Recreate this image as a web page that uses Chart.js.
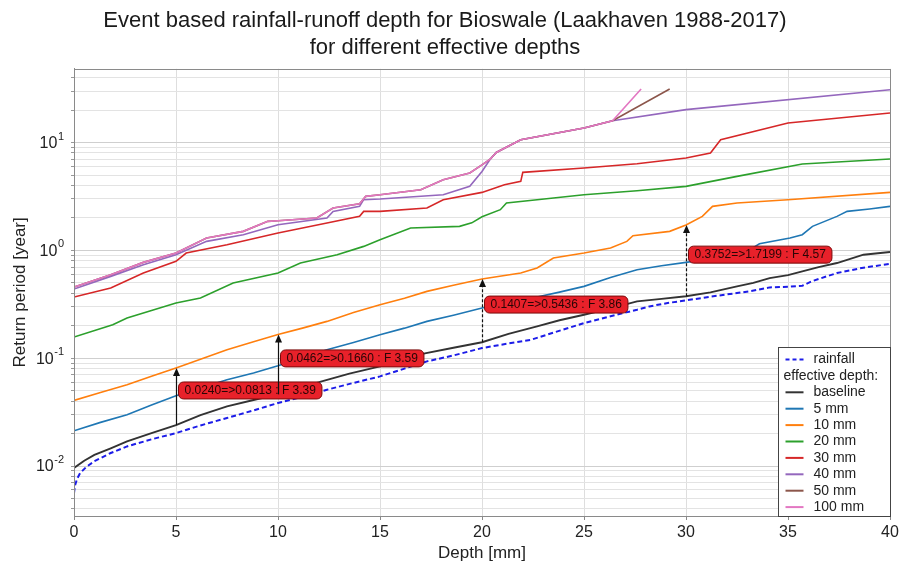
<!DOCTYPE html>
<html>
<head>
<meta charset="utf-8">
<script src="https://cdn.jsdelivr.net/npm/chart.js@4/dist/chart.umd.min.js"></script>
<style>
  html, body { margin: 0; padding: 0; background: #fff; }
  #wrap { width: 899px; height: 564px; }
</style>
</head>
<body>
<div id="wrap"><canvas id="c" width="899" height="564"></canvas></div>
<script>
// Return period [year] against event depth [mm], one [depth, period] list per curve
const rainfall = [[0,0.0056],[0.05,0.0066],[0.15,0.0076],[0.3,0.0086],[0.6,0.0098],[1,0.0111],[1.8,0.0132],[2.6,0.0152],[3.8,0.0177],[5,0.0202],[6.2,0.0238],[7.5,0.0279],[8.8,0.0328],[10,0.0384],[11.2,0.0440],[12.4,0.0510],[13.7,0.0590],[15,0.0678],[16.2,0.0800],[17.3,0.0934],[18.6,0.106],[20,0.1242],[21.2,0.1360],[22.4,0.1483],[23.6,0.1750],[25,0.2118],[26.3,0.245],[27.6,0.2816],[28.2,0.3022],[29.1,0.3250],[30,0.3436],[31.2,0.372],[32.5,0.4019],[33.2,0.420],[34.1,0.4537],[35,0.4600],[35.7,0.4702],[36.2,0.52],[37.4,0.6163],[38.5,0.68],[40,0.752]];
const baseline = [[0,0.0096],[0.5,0.0112],[1,0.0127],[1.8,0.0146],[2.6,0.0169],[3.8,0.0202],[5,0.0240],[6.2,0.0296],[7.5,0.0357],[8.8,0.0410],[10,0.0462],[11,0.0530],[12.1,0.0607],[13.5,0.0720],[15,0.0840],[16.1,0.0960],[17.2,0.111],[18.6,0.125],[20,0.1407],[21.3,0.168],[22.7,0.1972],[23.8,0.225],[25,0.2531],[26.3,0.290],[27.6,0.3365],[28.8,0.355],[30,0.3752],[31.2,0.408],[32.5,0.4636],[33.3,0.500],[34.1,0.5536],[35,0.590],[35.7,0.6385],[36.5,0.700],[37.4,0.763],[38.7,0.9116],[40,0.965]];
const eff5 = [[0,0.0212],[1.3,0.0254],[2.6,0.0299],[3.8,0.0368],[5,0.0449],[6.2,0.0530],[7.5,0.0631],[8.8,0.0730],[10,0.0851],[11.2,0.101],[12.4,0.1199],[13.7,0.140],[15,0.1651],[16.2,0.190],[17.3,0.2195],[18.6,0.250],[20,0.2917],[21.3,0.330],[22.7,0.369],[23.8,0.410],[25,0.4636],[26.3,0.560],[27.6,0.6616],[28.8,0.720],[30,0.7739],[31.5,0.85],[33,0.98],[33.6,1.15],[35.1,1.302],[35.7,1.397],[36.2,1.67],[37.4,2.067],[37.9,2.30],[39,2.42],[40,2.559]];
const eff10 = [[0,0.0406],[1.3,0.0480],[2.6,0.0567],[3.8,0.0680],[5,0.0813],[6.2,0.0980],[7.5,0.1199],[8.8,0.1420],[10,0.166],[11.2,0.190],[12.4,0.2195],[13.7,0.265],[15,0.3133],[16.2,0.360],[17.3,0.4166],[18.6,0.475],[20,0.5436],[21.9,0.6163],[22.7,0.6856],[23.5,0.8489],[25,0.9447],[26.3,1.05],[27.1,1.212],[27.4,1.368],[29.2,1.501],[30,1.7199],[30.8,2.067],[31.3,2.559],[32.5,2.748],[35,2.951],[40,3.452]];
const eff20 = [[0,0.1571],[1.9,0.2044],[2.6,0.2357],[5,0.3246],[6.2,0.3613],[7.8,0.4977],[10,0.6163],[11.1,0.763],[12.9,0.9116],[14.2,1.089],[15,1.256],[16.5,1.612],[18.9,1.670],[19.5,1.80],[20,2.05],[20.9,2.384],[21.2,2.748],[22.7,2.951],[25,3.284],[27.6,3.578],[30,3.924],[32.5,4.859],[35.7,6.32],[40,7.035]];
const eff30 = [[0,0.369],[1.8,0.4472],[3.4,0.6163],[5,0.7907],[5.5,0.9447],[7.5,1.129],[10,1.448],[12.4,1.793],[14,2.067],[14.2,2.30],[15,2.30],[17.3,2.471],[18.1,2.951],[20,3.45],[21.1,4.065],[21.9,4.366],[22.0,5.293],[25,5.804],[27.6,6.368],[30,7.19],[31.2,8.0],[31.7,10.63],[35,15.18],[40,18.79]];
const eff40 = [[0,0.4378],[1.8,0.5739],[3.4,0.7363],[5,0.9116],[6.5,1.212],[8.3,1.397],[10,1.730],[12.4,1.995],[12.7,2.30],[14,2.559],[14.2,2.951],[15,2.993],[18.1,3.284],[19.4,3.924],[20,5.4],[20.4,7.0],[20.7,8.1],[21.9,10.63],[25,13.64],[26.4,15.95],[30,20.18],[40,30.9]];
const eff50 = [[0,0.457],[1.8,0.5946],[3.4,0.7739],[5,0.9447],[6.5,1.302],[8.3,1.501],[9.5,1.858],[10,1.884],[11.9,1.995],[12.7,2.471],[14,2.71],[14.3,3.169],[15,3.284],[17,3.654],[18.1,4.524],[19.4,5.218],[20,6.2],[20.4,7.0],[20.7,8.1],[21.9,10.63],[25,13.64],[26.4,15.95],[29.2,31.4]];
const eff100 = [[0,0.457],[1.8,0.5946],[3.4,0.7739],[5,0.9447],[6.5,1.302],[8.3,1.501],[9.5,1.858],[10,1.884],[11.9,1.995],[12.7,2.471],[14,2.71],[14.3,3.169],[15,3.284],[17,3.654],[18.1,4.524],[19.4,5.218],[20,6.2],[20.4,7.0],[20.7,8.1],[21.9,10.63],[25,13.64],[26.4,15.95],[27.8,31.4]];

const seriesNames = ['rainfall', 'baseline', '5 mm', '10 mm', '20 mm', '30 mm', '40 mm', '50 mm', '100 mm'];
const seriesData = [rainfall, baseline, eff5, eff10, eff20, eff30, eff40, eff50, eff100];

// Baseline -> 10 mm increase marked at selected depths
const arrowDepth = [5, 10, 20, 30];
const arrowFrom = [0.0240, 0.0462, 0.1407, 0.3752];
const arrowTo = [0.0813, 0.1660, 0.5436, 1.7199];
const arrowFactor = [3.39, 3.59, 3.86, 4.57];

const xTickValues = [0, 5, 10, 15, 20, 25, 30, 35, 40];
const yDecades = [-2, -1, 0, 1];
const titleLines = ['Event based rainfall-runoff depth for Bioswale (Laakhaven 1988-2017)', 'for different effective depths'];

const seriesColors = ['#1c1ce8', '#333333', '#1f77b4', '#ff7f0e', '#2ca02c', '#d62728', '#9467bd', '#8c564b', '#e377c2'];
const FONT = '"Liberation Sans", Arial, Helvetica, sans-serif';
Chart.defaults.font.family = FONT;
Chart.defaults.color = '#222';

const Y_MIN = 0.00344, Y_MAX = 48.3;

const datasets = seriesData.map((pts, i) => ({
  label: seriesNames[i],
  data: pts.map(([x, y]) => ({ x, y })),
  borderColor: seriesColors[i],
  borderWidth: i === 0 ? 2 : (i === 1 ? 1.9 : 1.6),
  borderDash: i === 0 ? [5, 3] : [],
  pointRadius: 0,
  tension: 0,
  fill: false,
  order: seriesData.length - i
}));

function roundRect(ctx, x, y, w, h, r) {
  ctx.beginPath();
  ctx.moveTo(x + r, y);
  ctx.lineTo(x + w - r, y);
  ctx.arcTo(x + w, y, x + w, y + r, r);
  ctx.lineTo(x + w, y + h - r);
  ctx.arcTo(x + w, y + h, x + w - r, y + h, r);
  ctx.lineTo(x + r, y + h);
  ctx.arcTo(x, y + h, x, y + h - r, r);
  ctx.lineTo(x, y + r);
  ctx.arcTo(x, y, x + r, y, r);
  ctx.closePath();
}

const decorations = {
  id: 'decorations',
  afterDatasetsDraw(chart) {
    const { ctx, scales: { x, y } } = chart;
    const dashed = [false, false, true, true];
    ctx.save();
    arrowDepth.forEach((d, i) => {
      const ax = Math.round(x.getPixelForValue(d)) + 0.5;
      const y0 = y.getPixelForValue(arrowFrom[i]);
      const y1 = y.getPixelForValue(arrowTo[i]);
      ctx.strokeStyle = '#111';
      ctx.fillStyle = '#111';
      ctx.lineWidth = 1.2;
      ctx.setLineDash(dashed[i] ? [3, 2] : []);
      ctx.beginPath();
      ctx.moveTo(ax, y0);
      ctx.lineTo(ax, y1 + 6);
      ctx.stroke();
      ctx.setLineDash([]);
      ctx.beginPath();
      ctx.moveTo(ax, y1);
      ctx.lineTo(ax - 3.5, y1 + 8);
      ctx.lineTo(ax + 3.5, y1 + 8);
      ctx.closePath();
      ctx.fill();

      const text = arrowFrom[i].toFixed(4) + '=>' + arrowTo[i].toFixed(4) + ' : F ' + arrowFactor[i].toFixed(2);
      ctx.font = '12px ' + FONT;
      const tw = ctx.measureText(text).width;
      const bw = tw + 12, bh = 17;
      const bx = ax + 2, by = (y0 + y1) / 2 - 6 - bh / 2;
      roundRect(ctx, bx, by, bw, bh, 5);
      ctx.fillStyle = '#e8212a';
      ctx.fill();
      ctx.strokeStyle = '#7a0a0a';
      ctx.lineWidth = 1;
      ctx.stroke();
      ctx.fillStyle = '#2a0505';
      ctx.textAlign = 'left';
      ctx.textBaseline = 'middle';
      ctx.fillText(text, bx + 6, by + bh / 2 + 0.5);
    });
    ctx.restore();
  },
  afterDraw(chart) {
    const { ctx, chartArea: ca, scales: { y } } = chart;
    ctx.save();
    // plot frame
    ctx.strokeStyle = '#8a8a8a';
    ctx.lineWidth = 1;
    ctx.strokeRect(Math.round(ca.left) + 0.5, Math.round(ca.top) + 0.5, Math.round(ca.right - ca.left), Math.round(ca.bottom - ca.top));

    // decade labels with superscript exponents
    ctx.fillStyle = '#222';
    ctx.textBaseline = 'middle';
    ctx.textAlign = 'right';
    const rightEdge = ca.left - 10;
    yDecades.forEach(e => {
      const py = y.getPixelForValue(Math.pow(10, e));
      const exp = String(e);
      ctx.font = '11px ' + FONT;
      const ew = ctx.measureText(exp).width;
      ctx.fillText(exp, rightEdge, py - 6);
      ctx.font = '16px ' + FONT;
      ctx.fillText('10', rightEdge - ew - 0.5, py + 1);
    });

    // legend box in the lower right corner
    const lw = 112, lh = 169;
    const lx = Math.round(ca.right - lw) + 0.5, ly = Math.round(ca.bottom - lh) + 0.5;
    ctx.fillStyle = '#ffffff';
    ctx.fillRect(lx, ly, lw, lh);
    ctx.strokeStyle = '#444';
    ctx.lineWidth = 1;
    ctx.strokeRect(lx, ly, lw, lh);
    const rows = ['rainfall', 'effective depth:', ...seriesNames.slice(1)];
    ctx.font = '14px ' + FONT;
    ctx.textAlign = 'left';
    ctx.textBaseline = 'middle';
    rows.forEach((txt, r) => {
      const ry = ly + 12 + r * 16.4;
      if (r === 1) {
        ctx.fillStyle = '#222';
        ctx.fillText(txt, lx + 5, ry);
        return;
      }
      const si = r === 0 ? 0 : r - 1;
      ctx.strokeStyle = seriesColors[si];
      ctx.lineWidth = 2;
      ctx.setLineDash(si === 0 ? [4, 3] : []);
      ctx.beginPath();
      ctx.moveTo(lx + 7, ry);
      ctx.lineTo(lx + 25, ry);
      ctx.stroke();
      ctx.setLineDash([]);
      ctx.fillStyle = '#222';
      ctx.fillText(txt, lx + 35, ry);
    });
    ctx.restore();
  }
};

new Chart(document.getElementById('c'), {
  type: 'line',
  data: { datasets },
  options: {
    responsive: false,
    animation: false,
    layout: { padding: { left: 0, right: 9, top: 0, bottom: 0 } },
    plugins: {
      legend: { display: false },
      tooltip: { enabled: false },
      title: {
        display: true,
        text: titleLines,
        color: '#1a1a1a',
        font: { size: 22, weight: 'normal', lineHeight: 1.2 },
        padding: { top: 8, bottom: 8 }
      }
    },
    scales: {
      x: {
        type: 'linear',
        min: 0,
        max: 40,
        afterBuildTicks(scale) { scale.ticks = xTickValues.map(v => ({ value: v })); },
        ticks: { font: { size: 16 }, color: '#222', padding: 3, autoSkip: false, maxRotation: 0 },
        grid: { color: '#dedede', tickLength: 4, tickColor: '#888' },
        border: { color: '#8a8a8a' },
        title: { display: true, text: 'Depth [mm]', color: '#222', font: { size: 17 }, padding: { top: 0, bottom: 0 } },
        afterFit(scale) { scale.height = 48; scale.paddingLeft = 0; scale.paddingRight = 0; }
      },
      y: {
        type: 'logarithmic',
        min: Y_MIN,
        max: Y_MAX,
        afterBuildTicks(scale) {
          const t = [];
          for (let e = -3; e <= 1; e++) {
            for (let m = 1; m <= 9; m++) {
              const v = m * Math.pow(10, e);
              if (v >= Y_MIN && v <= Y_MAX) t.push({ value: v, major: m === 1 });
            }
          }
          scale.ticks = t;
        },
        ticks: { callback: () => '', autoSkip: false },
        grid: {
          color: c => (c.tick && c.tick.major) ? '#cfcfcf' : '#e3e3e3',
          tickLength: 3,
          tickColor: '#999'
        },
        border: { color: '#8a8a8a' },
        title: { display: true, text: 'Return period [year]', color: '#222', font: { size: 17 }, padding: { top: 10, bottom: 0 } },
        afterFit(scale) { scale.width = 74; scale.paddingTop = 0; scale.paddingBottom = 0; }
      }
    }
  },
  plugins: [decorations]
});
</script>
</body>
</html>
